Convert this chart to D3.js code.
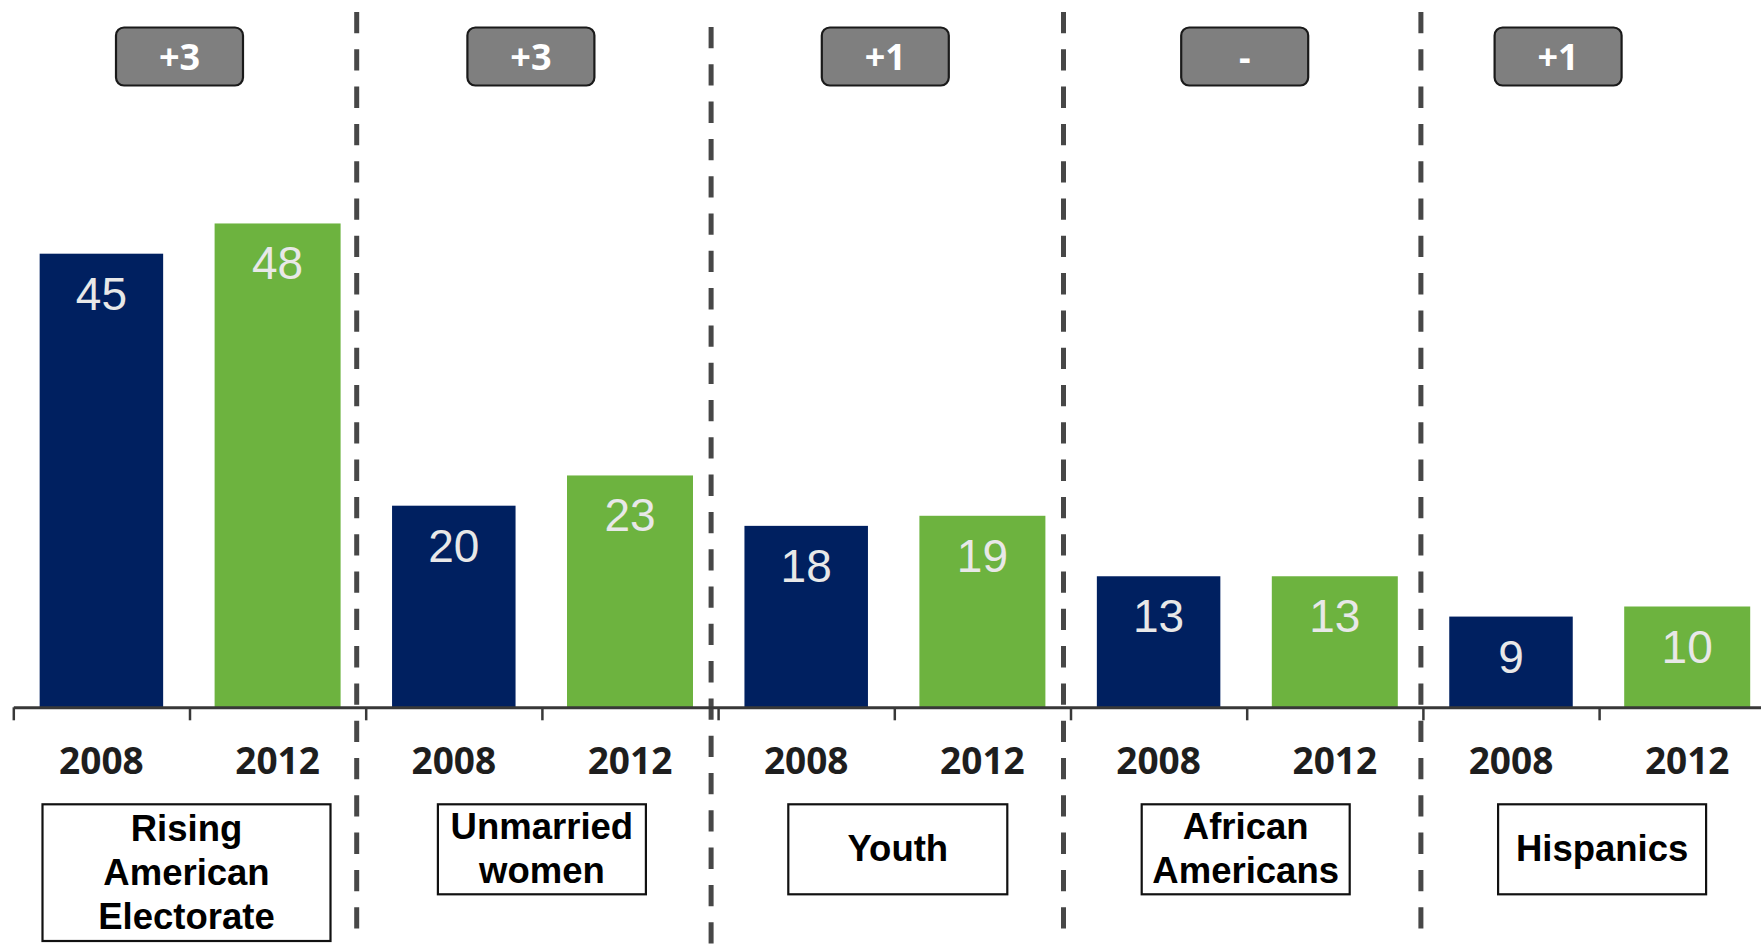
<!DOCTYPE html>
<html>
<head>
<meta charset="utf-8">
<script src="https://cdn.jsdelivr.net/npm/d3@7"></script>
<style>
  body { margin: 0; background: #fff; }
  svg { display: block; }
  .val { font-family: 'Liberation Sans', Arial, sans-serif; font-size: 46px; fill: #e8e8e8; }
  .year { font-family: 'Open Sans', 'Liberation Sans', sans-serif; font-weight: 700; font-size: 37px; fill: #1e1e1e; }
  .cat { font-family: 'Liberation Sans', Arial, sans-serif; font-weight: 700; font-size: 36.5px; fill: #000; }
  .chg { font-family: 'Open Sans', 'Liberation Sans', sans-serif; font-weight: 700; font-size: 36px; fill: #fff; }
</style>
</head>
<body>
<div id="chart"></div>
<script>
// data
var categories = ['Rising American Electorate', 'Unmarried women', 'Youth', 'African Americans', 'Hispanics'];
var categoryLines = [['Rising', 'American', 'Electorate'], ['Unmarried', 'women'], ['Youth'], ['African', 'Americans'], ['Hispanics']];
var years = ['2008', '2012'];
var values2008 = [45, 20, 18, 13, 9];
var values2012 = [48, 23, 19, 13, 10];
var changes = ['+3', '+3', '+1', '-', '+1'];

// layout bits
var width = 1761, height = 945;
var baseY = 707.3;
var colors = { '2008': '#002060', '2012': '#6db33f' };
var barW = { '2008': 123.5, '2012': 126 };
var boxW = [288, 208, 219, 208, 208];
var boxShift = [-3, 0, 3.5, -1, 3];
var badgeShift = [-10, -11, -9, -2, -41];
var dividerShift = [-9, -7, -7, -2];

var svg = d3.select('#chart').append('svg')
    .attr('width', width)
    .attr('height', height);

var x0 = d3.scaleBand()
    .domain(categories)
    .range([13.3, 1775.3])
    .paddingInner(0)
    .paddingOuter(0);

var x1 = d3.scaleBand()
    .domain(years)
    .range([0, x0.bandwidth()]);

var y = d3.scaleLinear()
    .domain([0, 70])
    .range([baseY, baseY - 70 * 10.08]);

var rows = [];
categories.forEach(function(c, i) {
    rows.push({ cat: c, year: '2008', value: values2008[i] });
    rows.push({ cat: c, year: '2012', value: values2012[i] });
});

function slotCenter(d) {
    return x0(d.cat) + x1(d.year) + x1.bandwidth() / 2;
}

// dashed dividers between groups
categories.slice(1).forEach(function(c, i) {
    var xx = x0(c) + dividerShift[i];
    var top = i === 1 ? 27 : 12;
    svg.append('line')
        .attr('x1', xx).attr('x2', xx)
        .attr('y1', top).attr('y2', top + 917.5)
        .attr('stroke', '#474747')
        .attr('stroke-width', 5)
        .attr('stroke-dasharray', '21.3 16');
});

// bars
svg.selectAll('rect.bar')
    .data(rows)
    .enter().append('rect')
    .attr('class', 'bar')
    .attr('x', function(d) { return slotCenter(d) - barW[d.year] / 2; })
    .attr('width', function(d) { return barW[d.year]; })
    .attr('y', function(d) { return y(d.value); })
    .attr('height', function(d) { return baseY - y(d.value); })
    .attr('fill', function(d) { return colors[d.year]; });

svg.selectAll('text.val')
    .data(rows)
    .enter().append('text')
    .attr('class', 'val')
    .attr('text-anchor', 'middle')
    .attr('x', slotCenter)
    .attr('y', function(d) { return y(d.value) + 56; })
    .text(function(d) { return d.value; });

// axis with ticks at every slot edge
var xEdge = d3.scaleLinear()
    .domain([0, categories.length * years.length])
    .range(x0.range());

var axis = svg.append('g')
    .attr('transform', 'translate(0,' + baseY + ')')
    .call(d3.axisBottom(xEdge)
        .tickValues(d3.range(0, categories.length * years.length + 1))
        .tickSize(13)
        .tickSizeOuter(0)
        .tickFormat(''));
axis.select('.domain').attr('stroke', '#383838').attr('stroke-width', 3);
axis.selectAll('.tick line').attr('stroke', '#383838').attr('stroke-width', 2.5);

// year labels
svg.selectAll('text.year')
    .data(rows)
    .enter().append('text')
    .attr('class', 'year')
    .attr('text-anchor', 'middle')
    .attr('x', slotCenter)
    .attr('y', 774)
    .text(function(d) { return d.year; });

// category boxes
var boxTop = 804.3, lineH = 44;
categories.forEach(function(c, i) {
    var lines = categoryLines[i];
    var cx = x0(c) + x0.bandwidth() / 2 + boxShift[i];
    var bh = lines.length > 2 ? 136.7 : 90;
    var g = svg.append('g');
    g.append('rect')
        .attr('x', cx - boxW[i] / 2)
        .attr('y', boxTop)
        .attr('width', boxW[i])
        .attr('height', bh)
        .attr('fill', '#fff')
        .attr('stroke', '#111')
        .attr('stroke-width', 2.2);
    var first = boxTop + bh / 2 - (lines.length - 1) * lineH / 2 + 12;
    g.selectAll('text')
        .data(lines)
        .enter().append('text')
        .attr('class', 'cat')
        .attr('text-anchor', 'middle')
        .attr('x', cx)
        .attr('y', function(d, k) { return first + k * lineH; })
        .text(function(d) { return d; });
});

// change badges
categories.forEach(function(c, i) {
    var cx = x0(c) + x0.bandwidth() / 2 + badgeShift[i];
    svg.append('rect')
        .attr('x', cx - 63.5)
        .attr('y', 27.5)
        .attr('width', 127)
        .attr('height', 58)
        .attr('rx', 8)
        .attr('fill', '#7f7f7f')
        .attr('stroke', '#1a1a1a')
        .attr('stroke-width', 2.2);
    svg.append('text')
        .attr('class', 'chg')
        .attr('text-anchor', 'middle')
        .attr('x', cx)
        .attr('y', 56.5 + 13)
        .text(changes[i]);
});
</script>
</body>
</html>
